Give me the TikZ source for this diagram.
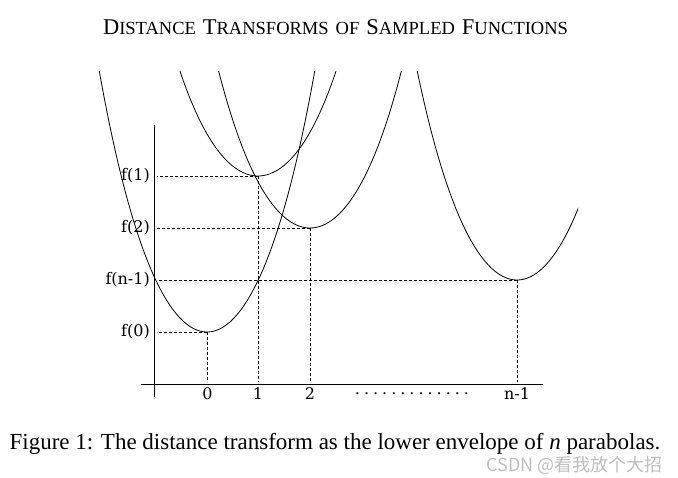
\documentclass[tikz,border=0pt]{standalone}
\usepackage{fontspec}
\setmainfont{Liberation Serif}
\newfontfamily\lblfont{DejaVu Serif}
\newfontfamily\cjkfont{Noto Sans CJK SC}
\newcommand\tsc[2]{{\fontsize{22.5}{22.5}\selectfont #1}{\fontsize{18.5}{18.5}\selectfont #2}}
\newcommand\tgap{\hspace{7pt}}
\definecolor{wmgray}{RGB}{190,190,190}
\begin{document}
\begin{tikzpicture}[x=1pt,y=-1pt,
  curve/.style={line width=0.8pt},
  guide/.style={dash pattern=on 3pt off 2pt, line width=0.6pt},
  axisline/.style={line width=0.9pt},
  lbl/.style={font=\lblfont\fontsize{16}{16}\selectfont, inner sep=0pt}]
\useasboundingbox (0,0) rectangle (678,478);

% title
\node (title) at (335.5,27) {\tsc{D}{ISTANCE}\tgap\tsc{T}{RANSFORMS}\tgap{\fontsize{18.5}{18.5}\selectfont OF}\tgap\tsc{S}{AMPLED}\tgap\tsc{F}{UNCTIONS}};

% axes
\coordinate (ytop) at (154,125);
\coordinate (ybot) at (154,397);
\coordinate (xleft) at (141,384);
\coordinate (xright) at (543,384);
\draw[axisline] (ytop) -- (ybot);
\draw[axisline] (xleft) -- (xright);

% vertices
\coordinate (v0) at (207,332);
\coordinate (v1) at (258,176);
\coordinate (v2) at (310,228);
\coordinate (vn) at (517,280);

% guides
\foreach \v in {v0,v1,v2,vn}{
  \draw[guide] (\v) -- (157,0 |- \v);
  \draw[guide] (\v) -- (\v |- 0,382);
}

% curves
\begin{scope}
\clip (0,72) rectangle (578,478);
\draw[curve] plot[domain=-1.12:1.12, samples=120] ({207+100*\x},{332-(190*\x*\x+30*\x*\x*\x*\x)});
\draw[curve] plot[domain=-0.86:0.86, samples=100] ({258+100*\x},{176-(154*\x*\x+30*\x*\x*\x*\x)});
\draw[curve] plot[domain=-0.97:0.97, samples=100] ({310+100*\x},{228-(163*\x*\x+30*\x*\x*\x*\x)});
\draw[curve] plot[domain=-1.06:1.06, samples=120] ({517+100*\x},{280-(180*\x*\x+30*\x*\x*\x*\x)});
\end{scope}

% y labels
\node[lbl, anchor=east] (f1) at (150,176) {f(1)};
\node[lbl, anchor=east] (f2) at (150,228) {f(2)};
\node[lbl, anchor=east] (fn) at (150,280) {f(n-1)};
\node[lbl, anchor=east] (f0) at (150,332) {f(0)};

% x labels
\node[lbl] (x0) at (207.5,394) {0};
\node[lbl] (x1) at (258,394) {1};
\node[lbl] (x2) at (310,394) {2};
\node[lbl] (xn) at (517,394) {n-1};
\node[lbl] (dots) at (412,394) {.\kern4pt.\kern4pt.\kern4pt.\kern4pt.\kern4pt.\kern4pt.\kern4pt.\kern4pt.\kern4pt.\kern4pt.\kern4pt.\kern4pt.};

% caption
\node (caption) at (335,444) {\fontsize{23}{23}\selectfont Figure 1: The distance transform as the lower envelope of \textit{n} parabolas.};

% watermark
\node[text=wmgray, anchor=east, inner sep=0pt] (wm) at (663,465) {\cjkfont\fontsize{18}{18}\selectfont CSDN @看我放个大招};
\end{tikzpicture}
\end{document}
